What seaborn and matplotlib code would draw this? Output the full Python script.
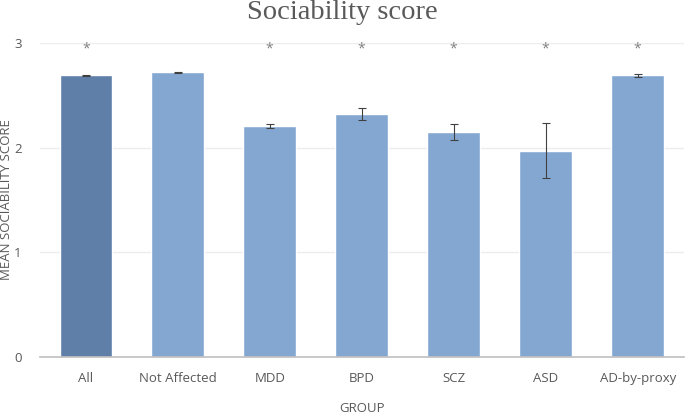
import numpy as np
import pandas as pd
import seaborn as sns
import matplotlib.pyplot as plt

groups = ['All', 'Not Affected', 'MDD', 'BPD', 'SCZ', 'ASD', 'AD-by-proxy']
means = [2.69, 2.72, 2.21, 2.32, 2.15, 1.97, 2.69]
errors = [0.005, 0.005, 0.02, 0.06, 0.08, 0.265, 0.012]
stars = ['*', '', '*', '*', '*', '*', '*']

sns.set_style('white')
plt.rcParams['font.family'] = ['Open Sans', 'DejaVu Sans']

df = pd.DataFrame({'group': groups, 'mean': means})
colors = ['#5F7FA8'] + ['#84A7D2'] * 6

fig = plt.figure(figsize=(6.85, 4.17), dpi=100)
ax = fig.add_axes([0.058, 0.144, 0.94, 0.753])

sns.barplot(data=df, x='group', y='mean', hue='group', palette=colors,
            saturation=1, legend=False, width=0.57, ax=ax, zorder=2)
ax.errorbar(np.arange(len(groups)), means, yerr=errors, fmt='none',
            ecolor='#404040', elinewidth=0.8, capsize=3, capthick=0.8, zorder=3)

for i, s in enumerate(stars):
    if s:
        ax.text(i, 2.94, s, ha='center', va='center', fontsize=10, color='#808080')

ax.set_xlim(-0.5, 6.5)
ax.set_ylim(0, 3)
ax.set_yticks([0, 1, 2, 3])
ax.yaxis.grid(True, color='#EDEDED', linewidth=1, zorder=0)
ax.set_axisbelow(True)
for side in ['top', 'right', 'left']:
    ax.spines[side].set_visible(False)
ax.spines['bottom'].set_color('#BFBFBF')
ax.spines['bottom'].set_linewidth(1.2)
ax.tick_params(axis='both', length=0, labelsize=9.5, colors='#595959', pad=11)
ax.tick_params(axis='y', pad=13)

ax.set_xlabel('GROUP', fontsize=9.5, color='#595959', labelpad=12)
ax.set_ylabel('MEAN SOCIABILITY SCORE', fontsize=9.5, color='#595959', labelpad=1)
fig.text(0.5, 0.97, 'Sociability score', ha='center', va='center', fontsize=20.5,
         color='#595959', family=['Liberation Serif', 'DejaVu Serif'])

plt.savefig('out.png', dpi=100)
